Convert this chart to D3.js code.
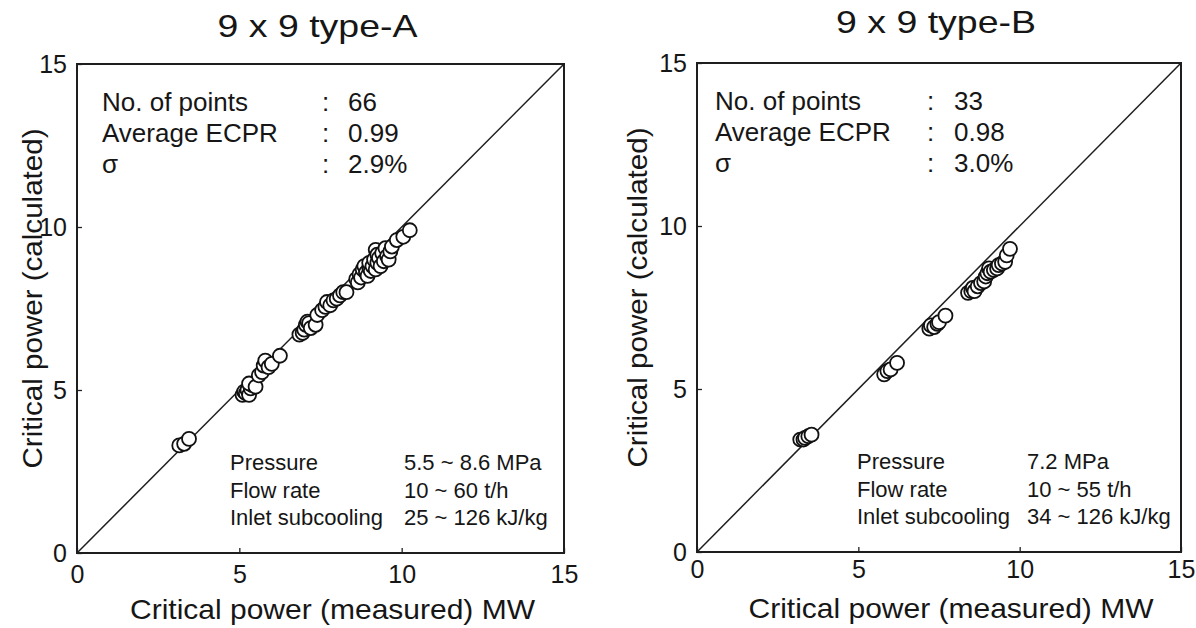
<!DOCTYPE html>
<meta charset="utf-8">
<script src="https://d3js.org/d3.v7.min.js"></script>
<style>
  body { margin: 0; background: #fff; }
  text { font-family: "Liberation Sans", Arial, sans-serif; fill: #161616; }
</style>
<div id="chart"></div>

<script>
// data (MW)
var measuredA = [3.15, 3.3, 3.45,
  5.1, 5.15, 5.2, 5.25, 5.3, 5.35, 5.4, 5.3, 5.5,
  5.6, 5.7, 5.75, 5.8, 5.9, 6.0, 6.25,
  6.85, 6.95, 7.0, 7.05, 7.1, 7.15, 7.2, 7.35, 7.4,
  7.55, 7.65, 7.7, 7.8, 7.9, 8.0, 8.1, 8.2, 8.3,
  8.6, 8.65, 8.7, 8.75, 8.8, 8.85, 8.9, 8.95, 9.0, 9.0, 9.05, 9.1, 9.15, 9.2, 9.2,
  9.25, 9.25, 9.3, 9.35, 9.4, 9.45, 9.5, 9.55, 9.6, 9.65, 9.7,
  9.85, 10.05, 10.25];
var calculatedA = [3.3, 3.35, 3.5,
  4.85, 4.95, 4.9, 5.0, 4.85, 5.05, 5.15, 5.2, 5.1,
  5.45, 5.55, 5.75, 5.9, 5.7, 5.8, 6.05,
  6.7, 6.75, 6.85, 7.0, 7.1, 7.05, 6.9, 7.0, 7.3,
  7.45, 7.55, 7.7, 7.6, 7.75, 7.8, 7.9, 8.0, 8.0,
  8.4, 8.3, 8.55, 8.45, 8.7, 8.8, 8.6, 8.5, 8.75, 8.9, 8.65, 8.8, 9.0, 8.7, 9.3,
  8.9, 9.15, 9.05, 8.8, 9.2, 8.95, 9.35, 9.1, 9.0, 9.25, 9.4,
  9.6, 9.7, 9.9];

var measuredB = [3.2, 3.3, 3.35, 3.45, 3.55,
  5.8, 5.9, 6.0, 6.2,
  7.2, 7.25, 7.35, 7.45, 7.5, 7.7,
  8.4, 8.5, 8.55, 8.6, 8.7, 8.8, 8.9, 8.95, 9.0, 9.05, 9.1, 9.2, 9.3, 9.35, 9.45, 9.55, 9.6, 9.7];
var calculatedB = [3.45, 3.45, 3.5, 3.55, 3.6,
  5.45, 5.55, 5.6, 5.8,
  6.85, 6.95, 6.9, 7.0, 7.05, 7.25,
  7.95, 8.0, 8.1, 8.0, 8.15, 8.25, 8.3, 8.45, 8.55, 8.7, 8.6, 8.65, 8.7, 8.8, 8.85, 8.9, 9.1, 9.3];

var axisTicks = [0, 5, 10, 15];
var titles = ["9 x 9 type-A", "9 x 9 type-B"];
var statLabels = ["No. of points", "Average ECPR", "\u03c3"];
var statsA = ["66", "0.99", "2.9%"];
var statsB = ["33", "0.98", "3.0%"];
var condLabels = ["Pressure", "Flow rate", "Inlet subcooling"];
var condA = ["5.5 ~ 8.6 MPa", "10 ~ 60 t/h", "25 ~ 126 kJ/kg"];
var condB = ["7.2 MPa", "10 ~ 55 t/h", "34 ~ 126 kJ/kg"];

var svg = d3.select("#chart").append("svg")
  .attr("width", 1196)
  .attr("height", 628);

var panels = [
  {left: 77, top: 64, w: 487, h: 489, title: titles[0], xs: measuredA, ys: calculatedA, stats: statsA, cond: condA,
   statX: [25, 245, 271], condX: [153, 327], yTitleX: -45, titleY: -27, tickPad: 12},
  {left: 697, top: 63, w: 484, h: 489, title: titles[1], xs: measuredB, ys: calculatedB, stats: statsB, cond: condB,
   statX: [18, 230, 257], condX: [160, 330], yTitleX: -60, titleY: -30, tickPad: 8}
];

panels.forEach(function(p) {
  var w = p.w, h = p.h;
  var g = svg.append("g")
    .attr("transform", "translate(" + p.left + "," + p.top + ")");

  var x = d3.scaleLinear().domain([0, 15]).range([0, w]);
  var y = d3.scaleLinear().domain([0, 15]).range([h, 0]);

  // axes with small inward ticks
  var xAxis = g.append("g")
    .attr("transform", "translate(0," + h + ")")
    .call(d3.axisBottom(x).tickValues(axisTicks).tickSize(-5).tickPadding(p.tickPad));
  var yAxis = g.append("g")
    .call(d3.axisLeft(y).tickValues(axisTicks).tickSize(-5).tickPadding(10));
  [xAxis, yAxis].forEach(function(a) {
    a.select(".domain").remove();
    a.selectAll(".tick line").attr("stroke", "#222").attr("stroke-width", 1.3);
    a.selectAll(".tick text")
      .style("font-size", "25px")
      .style("font-family", "'Liberation Sans', Arial, sans-serif")
      .attr("fill", "#161616");
  });
  xAxis.selectAll(".tick text").attr("dy", "0.72em");

  // frame
  g.append("rect")
    .attr("width", w).attr("height", h)
    .attr("fill", "none")
    .attr("stroke", "#1e1e1e")
    .attr("stroke-width", 2);

  // 1:1 line
  g.append("line")
    .attr("x1", x(0)).attr("y1", y(0))
    .attr("x2", x(15)).attr("y2", y(15))
    .attr("stroke", "#1e1e1e")
    .attr("stroke-width", 1.5);

  // points
  g.append("g").selectAll("circle")
    .data(p.xs.map(function(v, i) { return [v, p.ys[i]]; }))
    .enter()
    .append("circle")
      .attr("cx", function(d) { return x(d[0]); })
      .attr("cy", function(d) { return y(d[1]); })
      .attr("r", 7)
      .attr("fill", "#fff")
      .attr("stroke", "#111")
      .attr("stroke-width", 1.8);

  // title
  g.append("text")
    .attr("x", w / 2 - 3)
    .attr("y", p.titleY)
    .attr("text-anchor", "middle")
    .attr("textLength", 200)
    .attr("lengthAdjust", "spacingAndGlyphs")
    .style("font-size", "32px")
    .text(p.title);

  // stats block
  statLabels.forEach(function(s, i) {
    var yy = 47 + i * 31;
    g.append("text").attr("x", p.statX[0]).attr("y", yy).style("font-size", "26px").text(s);
    g.append("text").attr("x", p.statX[1]).attr("y", yy).style("font-size", "26px").text(":");
    g.append("text").attr("x", p.statX[2]).attr("y", yy).style("font-size", "26px").text(p.stats[i]);
  });

  // test conditions
  condLabels.forEach(function(s, i) {
    var yy = 406 + i * 27.5;
    g.append("text").attr("x", p.condX[0]).attr("y", yy).style("font-size", "22px").text(s);
    g.append("text").attr("x", p.condX[1]).attr("y", yy).style("font-size", "22px").text(p.cond[i]);
  });

  // axis titles
  g.append("text")
    .attr("x", w / 2 + 12)
    .attr("y", h + 66)
    .attr("text-anchor", "middle")
    .attr("textLength", 405)
    .attr("lengthAdjust", "spacingAndGlyphs")
    .style("font-size", "28px")
    .text("Critical power (measured) MW");

  g.append("text")
    .attr("transform", "translate(" + p.yTitleX + "," + (h / 2 - 10) + ") rotate(-90)")
    .attr("text-anchor", "middle")
    .attr("textLength", 340)
    .attr("lengthAdjust", "spacingAndGlyphs")
    .style("font-size", "28px")
    .attr("dy", "0.35em")
    .text("Critical power (calculated)");
});
</script>
